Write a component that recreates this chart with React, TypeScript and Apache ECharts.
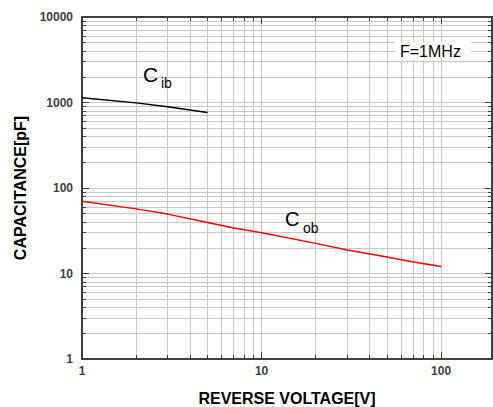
import React, { useEffect, useRef } from "react";
import * as echarts from "echarts";

const cibVoltage = [1, 2, 3, 4, 5];
const cibValues = [1140, 990, 890, 815, 765];
const cobVoltage = [1, 2, 3, 5, 7, 10, 20, 30, 50, 70, 100];
const cobValues = [70, 57, 49.5, 39.5, 34, 30, 22.5, 18.8, 15.6, 13.6, 12.1];
const xRange = [1, 192];
const yRange = [1, 10000];

const FONT = "'Liberation Sans', Arial, sans-serif";

export default function App() {
  const ref = useRef<HTMLDivElement>(null);
  useEffect(() => {
    if (!ref.current) return;
    const chart = echarts.init(ref.current, undefined, { renderer: "svg" });
    const gridColor = "#c8c8c8";
    const axisColor = "#404040";
    const baseAxis = {
      type: "log" as const,
      logBase: 10,
      axisLine: { show: true, lineStyle: { color: axisColor, width: 2 } },
      axisTick: { show: true, inside: true, length: 7, lineStyle: { color: axisColor, width: 1 } },
      minorTick: { show: true, splitNumber: 9, length: 4, lineStyle: { color: axisColor, width: 1 } },
      splitLine: { show: true, lineStyle: { color: gridColor, width: 1 } },
      minorSplitLine: { show: true, lineStyle: { color: gridColor, width: 1 } },
    };
    const fmt = (v: number) => String(v);
    const option: any = {
      animation: false,
      backgroundColor: "#ffffff",
      grid: { left: 82, right: 1, top: 17, bottom: 48, containLabel: false, outerBoundsMode: "none" },
      xAxis: [
        {
          ...baseAxis,
          position: "bottom",
          min: xRange[0],
          max: xRange[1],
          name: "REVERSE VOLTAGE[V]",
          nameLocation: "middle",
          nameGap: 31,
          nameTextStyle: { fontFamily: FONT, fontWeight: "bold", fontSize: 16, color: "#000" },
          axisLabel: {
            fontFamily: FONT,
            fontWeight: "bold",
            fontSize: 12,
            color: axisColor,
            margin: 6,
            showMaxLabel: false,
            formatter: fmt,
          },
        },
        {
          ...baseAxis,
          position: "top",
          min: xRange[0],
          max: xRange[1],
          splitLine: { show: false },
          minorSplitLine: { show: false },
          axisLabel: { show: false },
        },
      ],
      yAxis: [
        {
          ...baseAxis,
          position: "left",
          min: yRange[0],
          max: yRange[1],
          name: "CAPACITANCE[pF]",
          nameLocation: "middle",
          nameGap: 53,
          nameRotate: 90,
          nameTextStyle: { fontFamily: FONT, fontWeight: "bold", fontSize: 16, color: "#000" },
          axisLabel: {
            fontFamily: FONT,
            fontWeight: "bold",
            fontSize: 12,
            color: axisColor,
            margin: 9,
            formatter: fmt,
          },
        },
        {
          ...baseAxis,
          position: "right",
          min: yRange[0],
          max: yRange[1],
          splitLine: { show: false },
          minorSplitLine: { show: false },
          axisLabel: { show: false },
        },
      ],
      series: [
        {
          name: "Cib",
          type: "line",
          xAxisIndex: 0,
          yAxisIndex: 0,
          symbol: "none",
          lineStyle: { color: "#000000", width: 1.5 },
          data: cibVoltage.map((v, i) => [v, cibValues[i]]),
        },
        {
          name: "Cob",
          type: "line",
          xAxisIndex: 0,
          yAxisIndex: 0,
          symbol: "none",
          lineStyle: { color: "#ff0000", width: 1.5 },
          data: cobVoltage.map((v, i) => [v, cobValues[i]]),
        },
      ],
      graphic: [
        { type: "text", z: 100, left: 143, top: 64, style: { text: "C", font: `21px ${FONT}`, fill: "#000" } },
        { type: "text", z: 100, left: 161, top: 76, style: { text: "ib", font: `14px ${FONT}`, fill: "#000" } },
        { type: "text", z: 100, left: 285, top: 209, style: { text: "C", font: `20px ${FONT}`, fill: "#000" } },
        { type: "text", z: 100, left: 303, top: 221, style: { text: "ob", font: `14px ${FONT}`, fill: "#000" } },
        { type: "rect", z: 100, shape: { x: 395, y: 42, width: 76, height: 18 }, style: { fill: "#ffffff" } },
        { type: "text", z: 101, left: 400, top: 43, style: { text: "F=1MHz", font: `16px ${FONT}`, fill: "#000" } },
      ],
    };
    chart.setOption(option);
    return () => chart.dispose();
  }, []);
  return (
    <div
      ref={ref}
      style={{ position: "fixed", left: 0, top: 0, width: 493, height: 407 }}
    />
  );
}
